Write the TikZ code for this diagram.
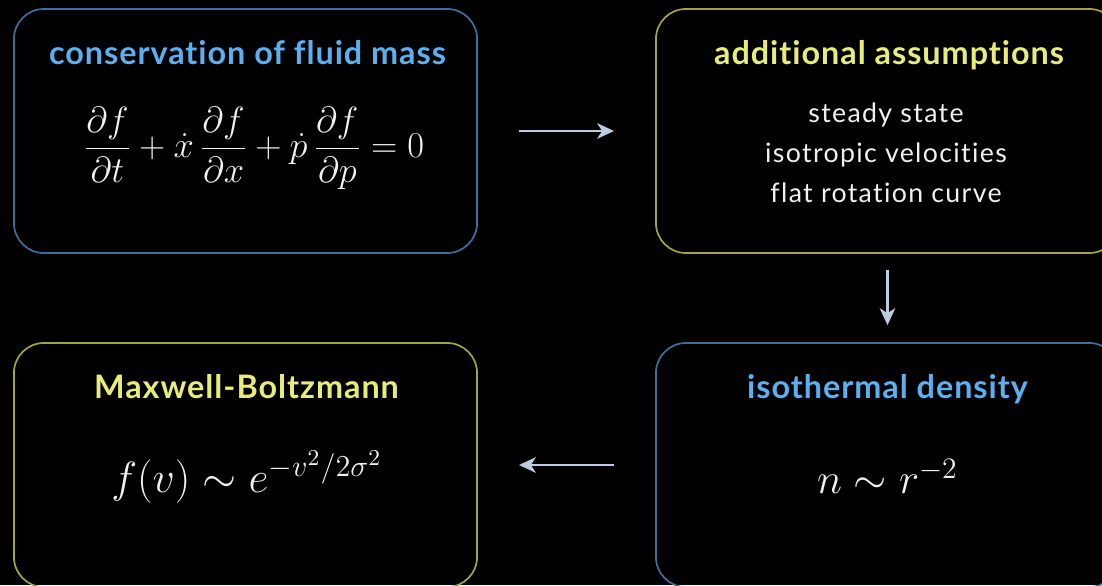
\documentclass[tikz,border=0pt]{standalone}
\usepackage{amsmath}
\usepackage{graphicx}
\usepackage{fontspec}
\newfontfamily\headfont{Lato}[LetterSpace=3, Ligatures=NoCommon]
\newfontfamily\bodyfont{Lato}[LetterSpace=5, Ligatures=NoCommon]
\usetikzlibrary{positioning, arrows.meta}
\definecolor{cardblue}{HTML}{3F6E9C}
\definecolor{cardyel}{HTML}{A4A444}
\definecolor{headblue}{HTML}{5CB0F0}
\definecolor{headyel}{HTML}{E8EC78}
\definecolor{arrowgrey}{HTML}{BCCCE0}

\begin{document}
\begin{tikzpicture}[
  x=0.025cm, y=-0.025cm,
  >={Stealth[length=12pt, width=11pt, inset=3.5pt]},
  every node/.style={text=white!94!black},
  card/.style={draw, rounded corners=0.75cm, line width=1.2pt, minimum width=11.575cm, minimum height=6.1cm},
  bluecard/.style={card, draw=cardblue},
  yelcard/.style={card, draw=cardyel},
  head/.style={font=\headfont\bfseries\fontsize{23}{28}\selectfont, inner sep=0pt, anchor=base},
  bluehead/.style={head, text=headblue},
  yelhead/.style={head, text=headyel},
  body/.style={font=\bodyfont\fontsize{19}{28.3}\selectfont, align=center, inner sep=0pt},
  eqn/.style={font=\fontsize{18}{22}\selectfont, inner sep=0pt},
  flow/.style={->, line width=1.8pt, arrowgrey},
]
  \path[use as bounding box, clip] (0,0) rectangle (1102,585);
  \fill[black] (0,0) rectangle (1102,585);

  % the four cards
  \node[bluecard] (cons) at (245.5,131) {};
  \node[yelcard]  (assm) at (887.5,131) {};
  \node[yelcard]  (maxw) at (245.5,465) {};
  \node[bluecard] (isot) at (887.5,465) {};

  % titles and contents
  \node[bluehead] (consT) at (247.5,64) {conservation of fluid mass};
  \node[eqn]      (consE) at (254,148.5)
    {\scalebox{1.5}{$\displaystyle\frac{\partial f}{\partial t} + \dot{x}\,\frac{\partial f}{\partial x} + \dot{p}\,\frac{\partial f}{\partial p} = 0$}};

  \node[yelhead]  (assmT) at (889,64) {additional assumptions};
  \node[body]     (assmB) at (886,153) {steady state\\ isotropic velocities\\ flat rotation curve};

  \node[yelhead]  (maxwT) at (246.5,398) {Maxwell-Boltzmann};
  \node[eqn]      (maxwE) at (247,477) {\scalebox{1.8}{$f(v) \sim e^{-v^2/2\sigma^2}$}};

  \node[bluehead] (isotT) at (887.5,398) {isothermal density};
  \node[eqn]      (isotE) at (887.5,476.5) {\scalebox{1.76}{$n \sim r^{-2}$}};

  % arrows between the cards
  \draw[flow, shorten <=1.025cm, shorten >=1.025cm] (cons) -- (assm);
  \draw[flow, shorten <=0.4cm,   shorten >=0.425cm] (assm) -- (isot);
  \draw[flow, shorten <=1.025cm, shorten >=1.025cm] (isot) -- (maxw);
\end{tikzpicture}
\end{document}
